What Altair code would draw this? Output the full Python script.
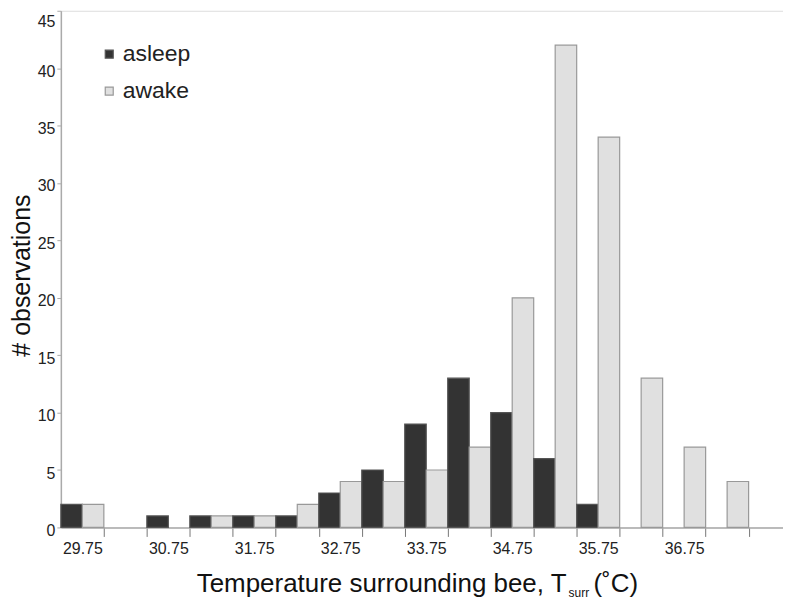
import altair as alt
import pandas as pd

# ---- data ----
temps = [29.75, 30.25, 30.75, 31.25, 31.75, 32.25, 32.75, 33.25,
         33.75, 34.25, 34.75, 35.25, 35.75, 36.25, 36.75, 37.25]
asleep = [2, 0, 1, 1, 1, 1, 3, 5, 9, 13, 10, 6, 2, 0, 0, 0]
awake = [2, 0, 0, 1, 1, 2, 4, 4, 5, 7, 20, 42, 34, 13, 7, 4]
states = ["asleep", "awake"]
label_ticks = [29.75, 30.75, 31.75, 32.75, 33.75, 34.75, 35.75, 36.75]
bin_edges = [30.0, 30.5, 31.0, 31.5, 32.0, 32.5, 33.0, 33.5, 34.0,
             34.5, 35.0, 35.5, 36.0, 36.5, 37.0, 37.5]
y_ticks = [0, 5, 10, 15, 20, 25, 30, 35, 40, 45]

title_main = "Temperature surrounding bee, T"
title_sub = "surr"
title_end = "(˚C)"
y_title = "# observations"

rows = []
for t, a, w in zip(temps, asleep, awake):
    rows.append({"temp": t, "state": states[0], "count": a})
    rows.append({"temp": t, "state": states[1], "count": w})
df = pd.DataFrame(rows)

FONT = "Liberation Sans"

fill_scale = alt.Scale(domain=states, range=["#333333", "#e0e0e0"])
stroke_scale = alt.Scale(domain=states, range=["#555555", "#999999"])

tick_values = sorted(label_ticks + bin_edges)
is_label = "(datum.value*4) % 2 == 1"

bars = alt.Chart(df).transform_filter(
    "datum.count > 0"
).transform_calculate(
    x0="datum.state == 'asleep' ? datum.temp - 0.25 : datum.temp",
    x1="datum.state == 'asleep' ? datum.temp : datum.temp + 0.25",
).mark_bar(strokeWidth=1.2).encode(
    x=alt.X("x0:Q",
            scale=alt.Scale(domain=[29.5, 37.9], nice=False, zero=False),
            axis=alt.Axis(values=tick_values,
                          labelExpr=f"{is_label} ? format(datum.value, '.2f') : ''",
                          tickOpacity={"condition": {"test": is_label, "value": 0}, "value": 1},
                          title=None, grid=False,
                          labelFont=FONT, labelFontSize=16, labelColor="#222222",
                          labelPadding=4, labelFlush=False, labelOverlap=False,
                          tickSize=9, tickColor="#777777", tickWidth=1,
                          domainColor="#aaaaaa", domainWidth=1.5)),
    x2="x1:Q",
    y=alt.Y("count:Q",
            scale=alt.Scale(domain=[0, 45], nice=False),
            axis=alt.Axis(values=y_ticks, title=y_title, grid=False,
                          titleFont=FONT, titleFontSize=25, titleFontWeight="normal",
                          titleColor="#111111", titlePadding=3, titleY=265,
                          labelFont=FONT, labelFontSize=16, labelColor="#222222",
                          labelPadding=2, labelOffset=3, labelFlush=False,
                          labelBaseline={"condition": {"test": "datum.value == 45", "value": "top"},
                                         "value": "middle"},
                          tickSize=4, tickColor="#aaaaaa",
                          domainColor="#aaaaaa", domainWidth=1.5)),
    y2=alt.datum(0),
    fill=alt.Fill("state:N", scale=fill_scale,
                  legend=alt.Legend(title=None, orient="none", legendX=37, legendY=32,
                                    symbolType="square", symbolSize=64,
                                    symbolStrokeWidth=1.2,
                                    labelFont=FONT, labelFontSize=23,
                                    labelColor="#222222", labelOffset=2,
                                    rowPadding=13, padding=0)),
    stroke=alt.Stroke("state:N", scale=stroke_scale, legend=None),
)

t1 = alt.Chart(pd.DataFrame({"t": [title_main]})).mark_text(
    font=FONT, fontSize=26, align="right", baseline="alphabetic", color="#111111"
).encode(text="t:N", x=alt.value(507), y=alt.value(583))

t2 = alt.Chart(pd.DataFrame({"t": [title_sub]})).mark_text(
    font=FONT, fontSize=12, align="left", baseline="alphabetic", color="#111111"
).encode(text="t:N", x=alt.value(509), y=alt.value(588))

t3 = alt.Chart(pd.DataFrame({"t": [title_end]})).mark_text(
    font=FONT, fontSize=26, align="left", baseline="alphabetic", color="#111111"
).encode(text="t:N", x=alt.value(534), y=alt.value(583))

chart = alt.layer(bars, t1, t2, t3).properties(
    width=724, height=518,
    autosize=alt.AutoSizeParams(type="none"),
    padding={"left": 53, "top": 2, "right": 0, "bottom": 78},
).configure_view(stroke=None).configure(background="white")

chart.save("out.html", embed_options={"renderer": "svg", "actions": False})
